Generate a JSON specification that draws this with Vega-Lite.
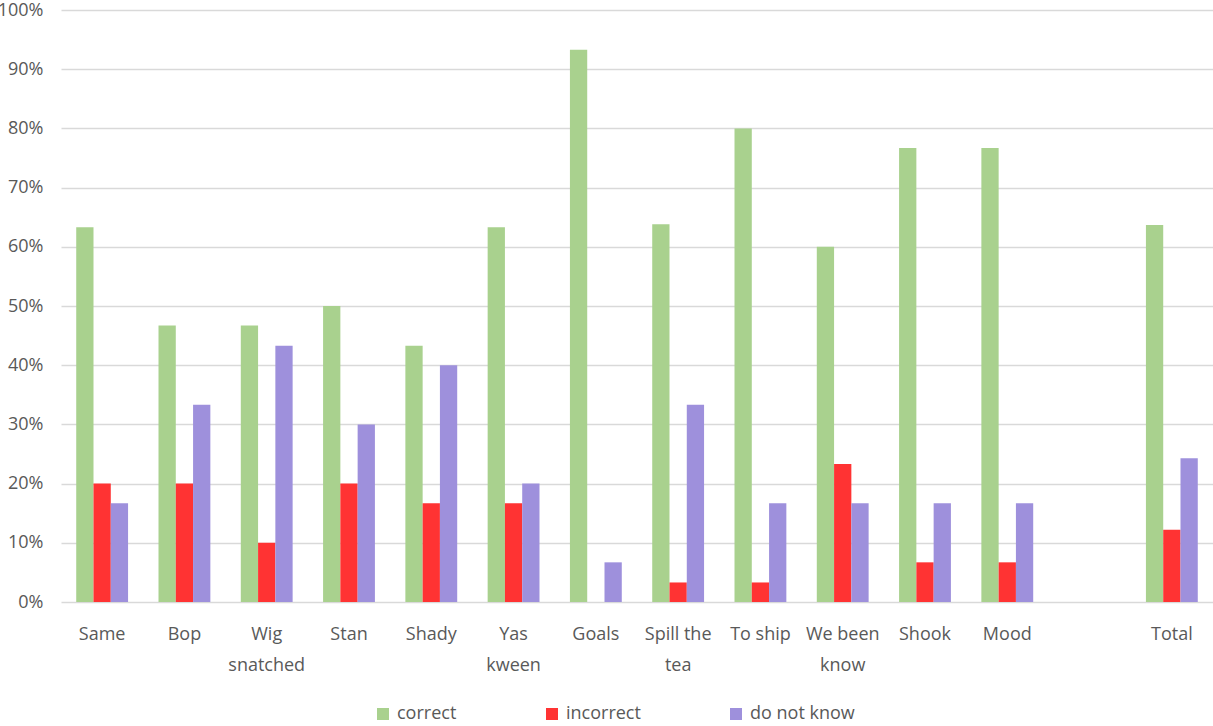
{
  "$schema": "https://vega.github.io/schema/vega-lite/v6.json",
  "width": 1152,
  "height": 592,
  "autosize": "none",
  "padding": {"left": 61, "top": 10, "right": 0, "bottom": 124},
  "background": "white",
  "config": {
    "font": "Open Sans",
    "view": {"stroke": null},
    "axis": {"labelFont": "Open Sans", "labelColor": "#595959", "labelFontSize": 18}
  },
  "data": {
    "values": [
      {"category": "Same", "answer": "correct", "value": 0.633},
      {"category": "Same", "answer": "incorrect", "value": 0.2},
      {"category": "Same", "answer": "do not know", "value": 0.167},
      {"category": "Bop", "answer": "correct", "value": 0.467},
      {"category": "Bop", "answer": "incorrect", "value": 0.2},
      {"category": "Bop", "answer": "do not know", "value": 0.333},
      {"category": "Wig snatched", "answer": "correct", "value": 0.467},
      {"category": "Wig snatched", "answer": "incorrect", "value": 0.1},
      {"category": "Wig snatched", "answer": "do not know", "value": 0.433},
      {"category": "Stan", "answer": "correct", "value": 0.5},
      {"category": "Stan", "answer": "incorrect", "value": 0.2},
      {"category": "Stan", "answer": "do not know", "value": 0.3},
      {"category": "Shady", "answer": "correct", "value": 0.433},
      {"category": "Shady", "answer": "incorrect", "value": 0.167},
      {"category": "Shady", "answer": "do not know", "value": 0.4},
      {"category": "Yas kween", "answer": "correct", "value": 0.633},
      {"category": "Yas kween", "answer": "incorrect", "value": 0.167},
      {"category": "Yas kween", "answer": "do not know", "value": 0.2},
      {"category": "Goals", "answer": "correct", "value": 0.933},
      {"category": "Goals", "answer": "incorrect", "value": 0},
      {"category": "Goals", "answer": "do not know", "value": 0.067},
      {"category": "Spill the tea", "answer": "correct", "value": 0.638},
      {"category": "Spill the tea", "answer": "incorrect", "value": 0.033},
      {"category": "Spill the tea", "answer": "do not know", "value": 0.333},
      {"category": "To ship", "answer": "correct", "value": 0.8},
      {"category": "To ship", "answer": "incorrect", "value": 0.033},
      {"category": "To ship", "answer": "do not know", "value": 0.167},
      {"category": "We been know", "answer": "correct", "value": 0.6},
      {"category": "We been know", "answer": "incorrect", "value": 0.233},
      {"category": "We been know", "answer": "do not know", "value": 0.167},
      {"category": "Shook", "answer": "correct", "value": 0.767},
      {"category": "Shook", "answer": "incorrect", "value": 0.067},
      {"category": "Shook", "answer": "do not know", "value": 0.167},
      {"category": "Mood", "answer": "correct", "value": 0.767},
      {"category": "Mood", "answer": "incorrect", "value": 0.067},
      {"category": "Mood", "answer": "do not know", "value": 0.167},
      {"category": "Total", "answer": "correct", "value": 0.637},
      {"category": "Total", "answer": "incorrect", "value": 0.122},
      {"category": "Total", "answer": "do not know", "value": 0.243}
    ]
  },
  "mark": {"type": "bar"},
  "encoding": {
    "x": {
      "field": "category",
      "type": "nominal",
      "scale": {
        "domain": ["Same", "Bop", "Wig snatched", "Stan", "Shady", "Yas kween", "Goals", "Spill the tea", "To ship", "We been know", "Shook", "Mood", "gap", "Total"],
        "paddingInner": 0.37,
        "paddingOuter": 0.185
      },
      "axis": {
        "title": null,
        "labelAngle": 0,
        "domain": false,
        "ticks": false,
        "labelPadding": 23,
        "labelLineHeight": 31,
        "labelBaseline": "top",
        "labelExpr": "datum.value == 'gap' ? '' : datum.value == 'Wig snatched' ? ['Wig', 'snatched'] : datum.value == 'Yas kween' ? ['Yas', 'kween'] : datum.value == 'Spill the tea' ? ['Spill the', 'tea'] : datum.value == 'We been know' ? ['We been', 'know'] : datum.value"
      }
    },
    "xOffset": {
      "field": "answer",
      "type": "nominal",
      "scale": {"domain": ["correct", "incorrect", "do not know"], "paddingInner": 0, "paddingOuter": 0}
    },
    "y": {
      "field": "value",
      "type": "quantitative",
      "scale": {"domain": [0, 1], "nice": false},
      "axis": {
        "title": null,
        "format": ".0%",
        "values": [0, 0.1, 0.2, 0.3, 0.4, 0.5, 0.6, 0.7, 0.8, 0.9, 1],
        "domain": false,
        "ticks": false,
        "labelPadding": 18,
        "gridColor": "#D9D9D9",
        "gridWidth": 1.3
      }
    },
    "color": {
      "field": "answer",
      "type": "nominal",
      "scale": {"domain": ["correct", "incorrect", "do not know"], "range": ["#A9D18E", "#FF3333", "#9E90DC"]},
      "legend": {
        "title": null,
        "orient": "none",
        "direction": "horizontal",
        "legendX": 313,
        "legendY": 695,
        "symbolType": "square",
        "symbolSize": 144,
        "symbolStrokeWidth": 0,
        "labelFontSize": 18,
        "labelColor": "#595959",
        "labelFont": "Open Sans",
        "labelOffset": 5,
        "columnPadding": 86
      }
    }
  }
}
